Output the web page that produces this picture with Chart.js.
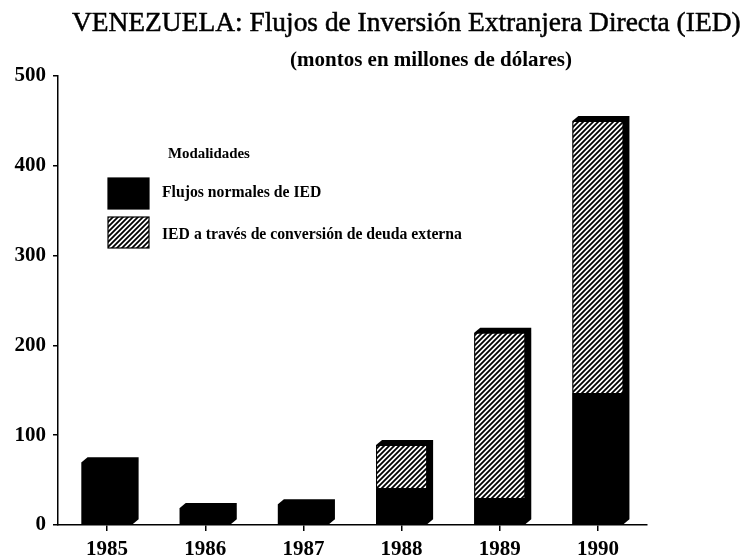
<!DOCTYPE html>
<html><head><meta charset="utf-8">
<script src="https://cdn.jsdelivr.net/npm/chart.js@4"></script>
<style>html,body{margin:0;padding:0;background:#fff}#wrap{width:748px;height:556px}</style>
</head><body><div id="wrap"><canvas id="c" width="748" height="556"></canvas></div>
<script>
const years = ['1985','1986','1987','1988','1989','1990'];
const normalFlows = [70, 19, 23, 41, 30, 147];
const debtConversion = [0, 0, 0, 48, 184, 303];
const yTicks = [0, 100, 200, 300, 400, 500];
const titleText = 'VENEZUELA: Flujos de Inversión Extranjera Directa (IED)';
const subtitleText = '(montos en millones de dólares)';
const legendTitle = 'Modalidades';
const seriesLabels = ['Flujos normales de IED', 'IED a través de conversión de deuda externa'];

const SERIF = '"Liberation Serif", "DejaVu Serif", serif';

function makeHatch() {
  const s = 5;
  const c = document.createElement('canvas');
  c.width = s; c.height = s;
  const x = c.getContext('2d');
  x.fillStyle = '#fff'; x.fillRect(0, 0, s, s);
  x.strokeStyle = '#000'; x.lineWidth = 1.8;
  x.beginPath();
  x.moveTo(-1, 1); x.lineTo(1, -1);
  x.moveTo(0, s); x.lineTo(s, 0);
  x.moveTo(s - 1, s + 1); x.lineTo(s + 1, s - 1);
  x.stroke();
  return document.getElementById('c').getContext('2d').createPattern(c, 'repeat');
}
const hatch = makeHatch();

function fitSize(ctx, text, weight, target) {
  ctx.font = weight + ' 100px ' + SERIF;
  return 100 * target / ctx.measureText(text).width;
}

const depthPlugin = {
  id: 'depth',
  beforeDatasetsDraw(chart) {
    const ctx = chart.ctx;
    const metas = chart.data.datasets.map((d, i) => chart.getDatasetMeta(i));
    const dx = 6, dy = 5;
    years.forEach((y, i) => {
      let top = Infinity, bottom = -Infinity, left, right;
      metas.forEach((m, di) => {
        const el = m.data[i];
        const v = chart.data.datasets[di].data[i];
        if (!el || !v) return;
        const p = el.getProps(['x', 'y', 'base', 'width'], true);
        top = Math.min(top, p.y, p.base);
        bottom = Math.max(bottom, p.y, p.base);
        left = p.x - p.width / 2; right = p.x + p.width / 2;
      });
      if (!isFinite(top)) return;
      ctx.save();
      ctx.fillStyle = '#000';
      ctx.beginPath();
      ctx.moveTo(left, bottom);
      ctx.lineTo(left, top);
      ctx.lineTo(left + dx, top - dy);
      ctx.lineTo(right + dx, top - dy);
      ctx.lineTo(right + dx, bottom - dy);
      ctx.lineTo(right, bottom);
      ctx.closePath();
      ctx.fill();
      ctx.restore();
    });
  }
};

const textPlugin = {
  id: 'texts',
  afterDraw(chart) {
    const ctx = chart.ctx;
    ctx.save();
    ctx.fillStyle = '#000';
    ctx.strokeStyle = '#000';
    ctx.textAlign = 'left';
    ctx.textBaseline = 'alphabetic';
    let s = fitSize(ctx, titleText, 'normal', 669);
    ctx.font = 'normal ' + s + 'px ' + SERIF;
    ctx.fillText(titleText, 72, 31);
    ctx.lineWidth = 0.5;
    ctx.strokeText(titleText, 72, 31);
    s = fitSize(ctx, subtitleText, 'bold', 282);
    ctx.font = 'bold ' + s + 'px ' + SERIF;
    ctx.fillText(subtitleText, 290, 66);
    // legend
    s = fitSize(ctx, legendTitle, 'bold', 82);
    ctx.font = 'bold ' + s + 'px ' + SERIF;
    ctx.fillText(legendTitle, 168, 158);
    const ls = fitSize(ctx, chart.data.datasets[1].label, 'bold', 300);
    ctx.font = 'bold ' + ls + 'px ' + SERIF;
    const rows = [{y: 178, base: 197}, {y: 217, base: 239}];
    chart.data.datasets.forEach((d, i) => {
      const r = rows[i];
      ctx.fillStyle = d.backgroundColor;
      ctx.fillRect(108, r.y, 41, 31);
      ctx.strokeStyle = '#000'; ctx.lineWidth = 1.2;
      ctx.strokeRect(108, r.y, 41, 31);
      ctx.fillStyle = '#000';
      ctx.fillText(d.label, 162, r.base);
    });
    ctx.restore();
  }
};

const tickFont = {family: SERIF, weight: 'bold', size: 21};

new Chart(document.getElementById('c'), {
  type: 'bar',
  data: {
    labels: years,
    datasets: [
      {label: seriesLabels[0], data: normalFlows, backgroundColor: '#000', borderWidth: 0, stack: 's'},
      {label: seriesLabels[1], data: debtConversion, backgroundColor: hatch, borderColor: '#000',
       borderWidth: c => (c.raw ? 1 : 0), stack: 's'}
    ]
  },
  options: {
    responsive: false,
    devicePixelRatio: 1,
    animation: false,
    layout: {padding: {top: 76, right: 101, left: 0, bottom: 0}},
    categoryPercentage: 1,
    barPercentage: 0.52,
    plugins: {legend: {display: false}, title: {display: false}, tooltip: {enabled: false}},
    scales: {
      x: {
        stacked: true,
        grid: {display: true, drawOnChartArea: false, drawTicks: true, tickLength: 6, offset: false, color: '#000', lineWidth: 1.5},
        border: {display: true, color: '#000', width: 1.5},
        ticks: {font: tickFont, color: '#000', padding: 6, maxRotation: 0},
        afterFit: s => { s.height = 31; }
      },
      y: {
        stacked: true,
        min: 0, max: 500,
        afterBuildTicks: s => { s.ticks = yTicks.map(v => ({value: v})); },
        grid: {display: true, drawOnChartArea: false, drawTicks: true, tickLength: 5, color: '#000', lineWidth: 1.5},
        border: {display: true, color: '#000', width: 1.5},
        ticks: {font: tickFont, color: '#000', padding: 7},
        afterFit: s => { s.width = 58; }
      }
    }
  },
  plugins: [depthPlugin, textPlugin]
});
</script>
</body></html>
